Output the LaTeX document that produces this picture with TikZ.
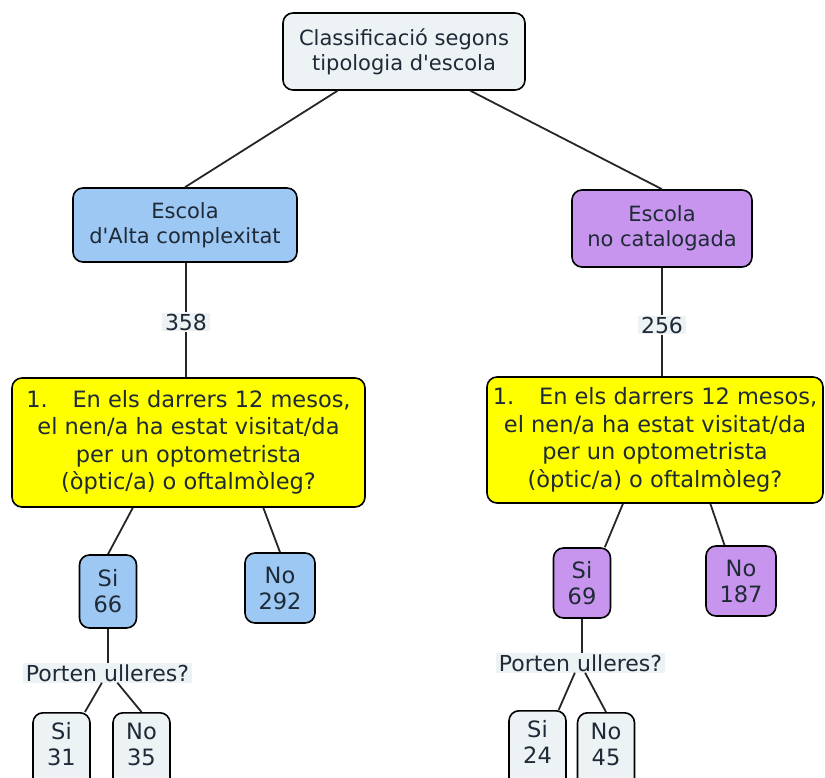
\documentclass[tikz,border=0pt]{standalone}
\usepackage{fontspec}
\setmainfont{DejaVu Sans}[Ligatures=TeXOff]
\usetikzlibrary{calc}
\definecolor{ink}{HTML}{1E2A36}
\definecolor{pale}{HTML}{EDF2F5}
\definecolor{bluebox}{HTML}{9DC8F4}
\definecolor{purplebox}{HTML}{C795EE}
\definecolor{yellowbox}{HTML}{FFFF00}
\begin{document}
\begin{tikzpicture}[x=1pt,y=-1pt,
  box/.style={draw=black, line width=1.6pt, rounded corners=10pt, align=center,
    text=ink, inner sep=0pt, font=\fontsize{22.5}{26}\selectfont},
  head/.style={box, font=\fontsize{21}{25}\selectfont},
  leaf/.style={box, fill=pale, minimum width=57pt, anchor=north,
    inner ysep=10pt, text depth=32pt},
  lab/.style={fill=pale, text=ink, inner xsep=3pt, inner ysep=1pt,
    font=\fontsize{22}{26}\selectfont},
  link/.style={line width=1.8pt, draw=black!85}]
\useasboundingbox (0,0) rectangle (825,778);
\clip (0,0) rectangle (825,778);

% top level
\node[head, fill=pale, minimum width=242pt, minimum height=77pt] (root) at (404,51.5)
  {Classificació segons\\tipologia d'escola};
\node[head, fill=bluebox, minimum width=224pt, minimum height=74pt] (alta) at (185,225)
  {Escola\\d'Alta complexitat};
\node[head, fill=purplebox, minimum width=180pt, minimum height=77pt] (nocat) at (662,228.5)
  {Escola\\no catalogada};

% question boxes
\node[box, fill=yellowbox, minimum width=353pt, minimum height=129pt,
  font=\fontsize{22.5}{27.5}\selectfont] (qa) at (188.5,442.5)
  {1.\hspace{1.1em}En els darrers 12 mesos,\\el nen/a ha estat visitat/da\\per un optometrista\\(òptic/a) o oftalmòleg?};
\node[box, fill=yellowbox, minimum width=336pt, minimum height=126pt,
  font=\fontsize{22.5}{27.5}\selectfont] (qb) at (655,440)
  {1.\hspace{1.1em}En els darrers 12 mesos,\\el nen/a ha estat visitat/da\\per un optometrista\\(òptic/a) o oftalmòleg?};

% counts on the links
\node[lab] (na) at (186,322) {358};
\node[lab] (nb) at (662,325) {256};

% answers, left branch
\node[box, fill=bluebox, minimum width=57pt, minimum height=73pt] (sia) at (108,591.5) {Si\\66};
\node[box, fill=bluebox, minimum width=70pt, minimum height=70pt] (noa) at (280,588) {No\\292};
\node[lab] (pa) at (107.5,673) {Porten ulleres?};
\node[leaf] (sia2) at (61.5,712) {Si\\31};
\node[leaf] (noa2) at (141.5,712) {No\\35};

% answers, right branch
\node[box, fill=purplebox, minimum width=57pt, minimum height=70pt] (sib) at (582,583) {Si\\69};
\node[box, fill=purplebox, minimum width=70pt, minimum height=70pt] (nob) at (741,581) {No\\187};
\node[lab] (pb) at (580.5,663) {Porten ulleres?};
\node[leaf] (sib2) at (537.5,710) {Si\\24};
\node[leaf] (nob2) at (606,712) {No\\45};

% connectors
\draw[link] ($(root.south west)!0.227!(root.south east)$) -- (alta.north);
\draw[link] ($(root.south west)!0.773!(root.south east)$) -- (nocat.north);

\draw[link] (alta.south -| na) -- (na.north);
\draw[link] (na.south) -- (qa.north -| na);
\draw[link] (nocat.south -| nb) -- (nb.north);
\draw[link] (nb.south) -- (qb.north -| nb);

\draw[link] ($(qa.south west)!0.343!(qa.south east)$) -- (sia.north);
\draw[link] ($(qa.south west)!0.711!(qa.south east)$) -- (noa.north);
\draw[link] ($(qb.south west)!0.405!(qb.south east)$) -- ($(sib.north west)!0.89!(sib.north east)$);
\draw[link] ($(qb.south west)!0.664!(qb.south east)$) -- ($(nob.north west)!0.27!(nob.north east)$);

\draw[link] (sia.south) -- (sia.south |- pa.north);
\draw[link] ($(pa.south west)!0.467!(pa.south east)$) -- ($(sia2.north west)!0.9!(sia2.north east)$);
\draw[link] ($(pa.south west)!0.558!(pa.south east)$) -- (noa2.north);

\draw[link] (sib.south) -- (sib.south |- pb.north);
\draw[link] ($(pb.south west)!0.467!(pb.south east)$) -- ($(sib2.north west)!0.86!(sib2.north east)$);
\draw[link] ($(pb.south west)!0.527!(pb.south east)$) -- (nob2.north);
\end{tikzpicture}
\end{document}
